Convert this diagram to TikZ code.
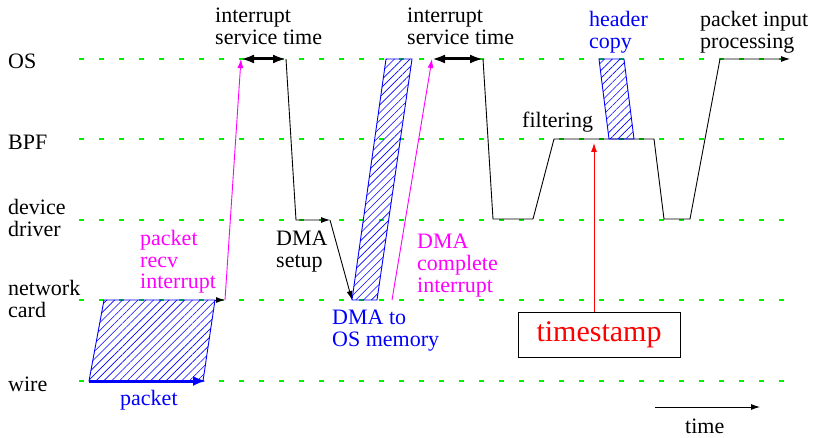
\documentclass[tikz,border=0pt]{standalone}
\usepackage{fontspec}
\setmainfont{Liberation Serif}
\usetikzlibrary{arrows.meta,patterns.meta}
\definecolor{lgreen}{RGB}{0,240,0}
\definecolor{mag}{RGB}{255,0,255}
\newcommand{\lns}[1]{\begin{tabular}[t]{@{}l@{}}#1\end{tabular}}
\begin{document}
\begin{tikzpicture}[x=1pt,y=-1pt,
  lvl/.style={draw=lgreen, dash pattern=on 5pt off 15pt, line width=1.2pt},
  lbl/.style={anchor=base west, inner sep=0pt, font=\fontsize{22}{21.5}\selectfont},
  thinl/.style={line width=0.9pt},
  tipa/.style={-{Latex[length=9pt,width=6pt]}},
  hatch/.style={draw=blue, line width=0.9pt, pattern={Lines[angle=45,distance=5.5pt,line width=0.6pt]}, pattern color=blue},
  spanarrow/.style={{Latex[length=13pt,width=9pt]}-{Latex[length=13pt,width=9pt]}, line width=3pt}]
\useasboundingbox (0,0) rectangle (814,438);
% level lines
\draw[lvl] (79,59) -- (792,59);
\draw[lvl] (79,139) -- (792,139);
\draw[lvl] (79,220) -- (792,220);
\draw[lvl] (79,300) -- (792,300);
\draw[lvl] (79,381) -- (792,381);
% level labels
\node[lbl] (los) at (8,69) {OS};
\node[lbl] (lbpf) at (8,150) {BPF};
\node[lbl] (ldd) at (8,215) {\lns{device\\driver}};
\node[lbl] (lnc) at (8,296) {\lns{network\\card}};
\node[lbl] (lw) at (8,391) {wire};
% coordinates
\coordinate (w0) at (89,381);
\coordinate (w1) at (203,381);
\coordinate (wt) at (206,381);
\coordinate (n0) at (104,300);
\coordinate (n1) at (215,300);
\coordinate (nc) at (225,300);
\coordinate (os1) at (241,59);
\coordinate (os2) at (286,59);
\coordinate (dd1) at (296,220);
\coordinate (dd2) at (330,220);
\coordinate (dmab0) at (352,300);
\coordinate (dmab1) at (377,300);
\coordinate (dmat0) at (386,59);
\coordinate (dmat1) at (412,59);
\coordinate (mi0) at (392,300);
\coordinate (os3) at (432,59);
\coordinate (os4) at (483,59);
\coordinate (dd3) at (493,219);
\coordinate (dd4) at (533,219);
\coordinate (bpf1) at (554,139);
\coordinate (bpf2) at (654,139);
\coordinate (hc0) at (599,59);
\coordinate (hc1) at (624,59);
\coordinate (hb0) at (609,139);
\coordinate (hb1) at (634,139);
\coordinate (dd5) at (664,219);
\coordinate (dd6) at (690,219);
\coordinate (os5) at (720,59);
\coordinate (os6) at (790,59);
\coordinate (bpft) at (594,143);
\coordinate (t0) at (655,407);
\coordinate (t1) at (760,407);
% packet
\draw[hatch] (w0) -- (w1) -- (n1) -- (n0) -- cycle;
\draw[blue, line width=3pt, -{Latex[length=13pt,width=10pt]}] (w0) -- (wt);
\draw[thinl, tipa] (n1) -- (nc);
\draw[mag, thinl, tipa] (nc) -- (os1);
\draw[spanarrow] (os1) -- (os2);
\draw[thinl, tipa] (os2) -- (dd1) -- (dd2);
\draw[thinl, tipa] (dd2) -- (dmab0);
\draw[hatch] (dmab0) -- (dmab1) -- (dmat1) -- (dmat0) -- cycle;
\draw[mag, thinl, tipa] (mi0) -- (os3);
\draw[spanarrow] (os3) -- (os4);
\draw[thinl, tipa] (os4) -- (dd3) -- (dd4) -- (bpf1) -- (bpf2) -- (dd5) -- (dd6) -- (os5) -- (os6);
\draw[hatch] (hc0) -- (hc1) -- (hb1) -- (hb0) -- cycle;
% timestamp
\node[draw, thinl, minimum width=162pt, minimum height=45pt, inner sep=0pt, text=red, font=\fontsize{30}{30}\selectfont] (ts) at (599,334.5) {timestamp};
\draw[red, thinl, tipa] (ts.north -| bpft) -- (bpft);
\draw[thinl, tipa] (t0) -- (t1);
% texts
\node[lbl, text=blue] (tpk) at (120,405) {packet};
\node[lbl, text=mag] (tpri) at (140,246) {\lns{packet\\recv\\interrupt}};
\node[lbl] (tist1) at (215,23) {\lns{interrupt\\service time}};
\node[lbl] (tdma) at (276,246) {\lns{DMA\\setup}};
\node[lbl, text=mag] (tdci) at (417,249) {\lns{DMA\\complete\\interrupt}};
\node[lbl, text=blue] (tdos) at (332,325) {\lns{DMA to\\OS memory}};
\node[lbl] (tist2) at (407,23) {\lns{interrupt\\service time}};
\node[lbl] (tfil) at (522,128) {filtering};
\node[lbl, text=blue] (thc) at (589,27) {\lns{header\\copy}};
\node[lbl] (tpip) at (700,27) {\lns{packet input\\processing}};
\node[lbl] (ttime) at (685,433) {time};
\end{tikzpicture}
\end{document}
